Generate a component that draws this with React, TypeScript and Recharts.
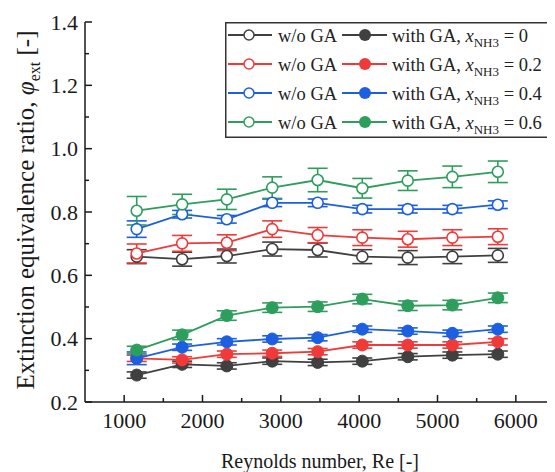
import React from 'react';
import { LineChart, Line, XAxis, YAxis, ErrorBar, Legend } from 'recharts';

// Reynolds numbers (x positions of measurements)
const reynolds = [1160, 1740, 2310, 2890, 3470, 4040, 4620, 5190, 5770];

// Ammonia fractions, one per colour
const ammoniaFractions = ['0', '0.2', '0.4', '0.6'];

// Without gliding arc (open markers)
const withoutGA_00 = [0.659, 0.651, 0.661, 0.683, 0.680, 0.659, 0.656, 0.659, 0.663];
const withoutGA_02 = [0.669, 0.701, 0.703, 0.746, 0.727, 0.719, 0.714, 0.719, 0.722];
const withoutGA_04 = [0.746, 0.793, 0.777, 0.829, 0.829, 0.809, 0.809, 0.809, 0.823];
const withoutGA_06 = [0.804, 0.824, 0.840, 0.877, 0.901, 0.875, 0.899, 0.911, 0.927];

const withoutGA_00_err = [0.022, 0.022, 0.022, 0.022, 0.022, 0.022, 0.022, 0.022, 0.022];
const withoutGA_02_err = [0.03, 0.025, 0.025, 0.026, 0.024, 0.025, 0.025, 0.025, 0.025];
const withoutGA_04_err = [0.026, 0.012, 0.012, 0.012, 0.012, 0.012, 0.012, 0.012, 0.012];
const withoutGA_06_err = [0.045, 0.032, 0.032, 0.034, 0.037, 0.031, 0.031, 0.034, 0.034];

// With gliding arc (filled markers)
const withGA_00 = [0.285, 0.319, 0.314, 0.329, 0.325, 0.329, 0.343, 0.348, 0.351];
const withGA_02 = [0.338, 0.333, 0.351, 0.354, 0.359, 0.380, 0.380, 0.380, 0.390];
const withGA_04 = [0.338, 0.373, 0.390, 0.399, 0.403, 0.430, 0.424, 0.417, 0.430];
const withGA_06 = [0.364, 0.412, 0.473, 0.498, 0.501, 0.525, 0.504, 0.506, 0.529];

const withGA_00_err = [0.01, 0.01, 0.01, 0.01, 0.01, 0.01, 0.01, 0.01, 0.01];
const withGA_02_err = [0.01, 0.01, 0.01, 0.01, 0.01, 0.01, 0.01, 0.01, 0.01];
const withGA_04_err = [0.02, 0.01, 0.01, 0.01, 0.01, 0.01, 0.01, 0.01, 0.01];
const withGA_06_err = [0.012, 0.015, 0.015, 0.015, 0.015, 0.015, 0.015, 0.015, 0.015];

// Axis ticks
const xMajorTicks = [1000, 2000, 3000, 4000, 5000, 6000];
const xMinorTicks = [1500, 2500, 3500, 4500, 5500];
const yMajorTicks = [0.2, 0.4, 0.6, 0.8, 1.0, 1.2, 1.4];
const yMinorTicks = [0.3, 0.5, 0.7, 0.9, 1.1, 1.3];

const COLORS = ['#404040', '#f03a3a', '#1c5fe0', '#2e9e5c'];
const AXIS = '#1a1a1a';
const FONT = '"Liberation Serif", "Times New Roman", serif';

const series = [
  { key: 'o0', values: withoutGA_00, errors: withoutGA_00_err, color: COLORS[0], filled: false },
  { key: 'o1', values: withoutGA_02, errors: withoutGA_02_err, color: COLORS[1], filled: false },
  { key: 'o2', values: withoutGA_04, errors: withoutGA_04_err, color: COLORS[2], filled: false },
  { key: 'o3', values: withoutGA_06, errors: withoutGA_06_err, color: COLORS[3], filled: false },
  { key: 'f0', values: withGA_00, errors: withGA_00_err, color: COLORS[0], filled: true },
  { key: 'f1', values: withGA_02, errors: withGA_02_err, color: COLORS[1], filled: true },
  { key: 'f2', values: withGA_04, errors: withGA_04_err, color: COLORS[2], filled: true },
  { key: 'f3', values: withGA_06, errors: withGA_06_err, color: COLORS[3], filled: true },
];

const data = reynolds.map((re, i) => {
  const row: Record<string, number> = { re };
  series.forEach((s) => {
    row[s.key] = s.values[i];
    row[s.key + 'e'] = s.errors[i];
  });
  return row;
});

const near = (list: number[], v: number) => list.some((t) => Math.abs(t - v) < 1e-6);
const xTicks = [...xMajorTicks, ...xMinorTicks].sort((a, b) => a - b);
const yTicks = [...yMajorTicks, ...yMinorTicks].sort((a, b) => a - b);

const BottomTick = (props: any) => {
  const { x, y, payload } = props;
  const major = near(xMajorTicks, payload.value);
  return (
    <g>
      <line x1={x} x2={x} y1={y} y2={y - (major ? 7 : 4)} stroke={AXIS} strokeWidth={1.5} />
      {major && (
        <text x={x} y={y + 26} textAnchor="middle" fontFamily={FONT} fontSize={22} fill={AXIS}>
          {payload.value}
        </text>
      )}
    </g>
  );
};

const TopTick = (props: any) => {
  const { x, y, payload } = props;
  const major = near(xMajorTicks, payload.value);
  return <line x1={x} x2={x} y1={y} y2={y + (major ? 7 : 4)} stroke={AXIS} strokeWidth={1.5} />;
};

const LeftTick = (props: any) => {
  const { x, y, payload } = props;
  const major = near(yMajorTicks, payload.value);
  return (
    <g>
      <line x1={x} x2={x + (major ? 7 : 4)} y1={y} y2={y} stroke={AXIS} strokeWidth={1.5} />
      {major && (
        <text x={x - 7} y={y} dy="0.35em" textAnchor="end" fontFamily={FONT} fontSize={22} fill={AXIS}>
          {payload.value.toFixed(1)}
        </text>
      )}
    </g>
  );
};

const RightTick = (props: any) => {
  const { x, y, payload } = props;
  const major = near(yMajorTicks, payload.value);
  return <line x1={x} x2={x - (major ? 7 : 4)} y1={y} y2={y} stroke={AXIS} strokeWidth={1.5} />;
};

const XTitle = (props: any) => {
  const vb = props.viewBox;
  return (
    <text x={vb.x + vb.width / 2} y={vb.y + 66} textAnchor="middle" fontFamily={FONT} fontSize={20} fill={AXIS}>
      Reynolds number, Re [-]
    </text>
  );
};

const YTitle = (props: any) => {
  const vb = props.viewBox;
  const cx = vb.x + 26;
  const cy = vb.y + vb.height / 2 - 2;
  return (
    <text x={cx} y={cy} textAnchor="middle" transform={`rotate(-90 ${cx} ${cy})`} fontFamily={FONT} fontSize={25} fill={AXIS}>
      Extinction equivalence ratio,{' '}
      <tspan fontStyle="italic">φ</tspan>
      <tspan fontSize={16} dy={6}>ext</tspan>
      <tspan dy={-6}> [-]</tspan>
    </text>
  );
};

const LegendBox = () => (
  <svg width={345} height={116} style={{ display: 'block' }}>
    <rect x={0.75} y={0.75} width={340} height={114.5} fill="white" stroke="#333" strokeWidth={1.5} />
    {ammoniaFractions.map((f, i) => {
      const cy = 13 + i * 29;
      const c = COLORS[i];
      return (
        <g key={f}>
          <line x1={3} x2={47} y1={cy} y2={cy} stroke={c} strokeWidth={1.8} />
          <circle cx={24} cy={cy} r={5} fill="white" stroke={c} strokeWidth={1.5} />
          <text x={53} y={cy + 6.5} fontFamily={FONT} fontSize={18.5} fill="#222">w/o GA</text>
          <line x1={117} x2={162} y1={cy} y2={cy} stroke={c} strokeWidth={1.8} />
          <circle cx={140} cy={cy} r={6} fill={c} />
          <text x={167} y={cy + 6.5} fontFamily={FONT} fontSize={18.5} fill="#222">
            with GA,{' '}
            <tspan fontStyle="italic">x</tspan>
            <tspan fontSize={13} dy={5}>NH3</tspan>
            <tspan dy={-5}> = {f}</tspan>
          </text>
        </g>
      );
    })}
  </svg>
);

export default function App() {
  return (
    <div style={{ width: 547, height: 464, overflow: 'hidden' }}>
      <LineChart width={547} height={464} data={data} margin={{ top: 14, right: 0, bottom: 0, left: 0 }}>
        <XAxis
          xAxisId={0}
          dataKey="re"
          type="number"
          domain={[500, 6500]}
          ticks={xTicks}
          interval={0}
          tickSize={0}
          tickMargin={0}
          height={70}
          axisLine={{ stroke: AXIS, strokeWidth: 1.5 }}
          tickLine={false}
          tick={<BottomTick />}
          label={<XTitle />}
          allowDataOverflow
        />
        <XAxis
          xAxisId="top"
          dataKey="re"
          type="number"
          orientation="top"
          domain={[500, 6500]}
          ticks={xTicks}
          interval={0}
          tickSize={0}
          tickMargin={0}
          height={0}
          axisLine={{ stroke: AXIS, strokeWidth: 1.5 }}
          tickLine={false}
          tick={<TopTick />}
          allowDataOverflow
        />
        <YAxis
          yAxisId={0}
          type="number"
          domain={[0.2, 1.4]}
          ticks={yTicks}
          interval={0}
          tickSize={0}
          tickMargin={0}
          width={77}
          axisLine={{ stroke: AXIS, strokeWidth: 1.5 }}
          tickLine={false}
          tick={<LeftTick />}
          label={<YTitle />}
          allowDataOverflow
        />
        <YAxis
          yAxisId="right"
          type="number"
          orientation="right"
          domain={[0.2, 1.4]}
          ticks={yTicks}
          interval={0}
          tickSize={0}
          tickMargin={0}
          width={0}
          axisLine={{ stroke: AXIS, strokeWidth: 1.5 }}
          tickLine={false}
          tick={<RightTick />}
          allowDataOverflow
        />
        {series.map((s) => (
          <Line
            key={s.key}
            xAxisId={0}
            yAxisId={0}
            dataKey={s.key}
            type="linear"
            stroke={s.color}
            strokeWidth={1.8}
            isAnimationActive={false}
            activeDot={false}
            dot={
              s.filled
                ? { r: 6, fill: s.color, stroke: s.color, strokeWidth: 1 }
                : { r: 5.5, fill: 'white', stroke: s.color, strokeWidth: 1.6 }
            }
          >
            <ErrorBar dataKey={s.key + 'e'} direction="y" width={10} stroke={s.color} strokeWidth={1.6} />
          </Line>
        ))}
        <Legend
          layout="vertical"
          align="center"
          verticalAlign="middle"
          content={<LegendBox />}
          wrapperStyle={{ position: 'absolute', left: 217, top: 14, width: 345, height: 116, margin: 0, padding: 0 }}
        />
      </LineChart>
    </div>
  );
}
